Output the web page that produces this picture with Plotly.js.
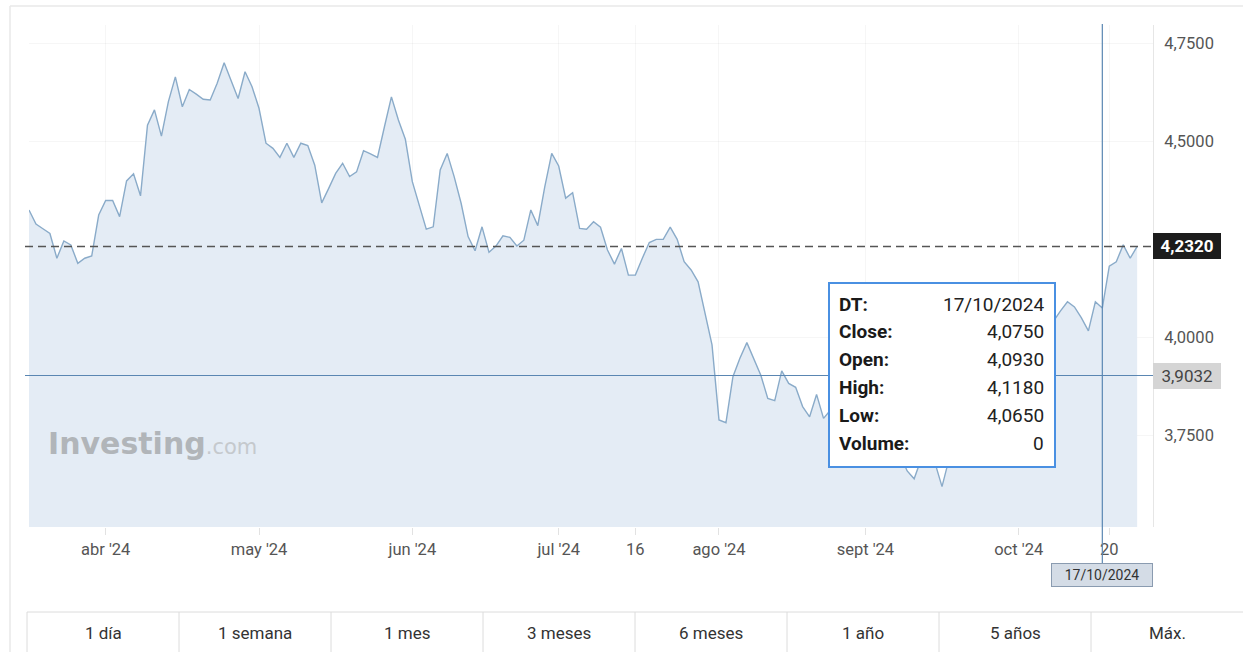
<!DOCTYPE html>
<html>
<head>
<meta charset="utf-8">
<script src="https://cdn.plot.ly/plotly-3.0.1.min.js"></script>
<style>
  html, body { margin: 0; padding: 0; background: #ffffff; }
  #chart { width: 1243px; height: 652px; }
</style>
</head>
<body>
<div id="chart"></div>
<script>
// ---- DATA ----
// Daily closes, one per trading session, as labelled by the source (Sun–Thu stamps)
const firstDate = '2024-03-17';
const closeValues = [
  4.325, 4.289, 4.277, 4.265, 4.202, 4.246, 4.236, 4.189, 4.202, 4.208,
  4.312, 4.349, 4.349, 4.308, 4.399, 4.417, 4.361, 4.541, 4.580, 4.513,
  4.601, 4.664, 4.588, 4.632, 4.620, 4.607, 4.605, 4.648, 4.700, 4.656,
  4.609, 4.677, 4.639, 4.584, 4.495, 4.482, 4.459, 4.495, 4.459, 4.495,
  4.489, 4.439, 4.343, 4.380, 4.418, 4.444, 4.410, 4.422, 4.476, 4.468,
  4.459, 4.537, 4.613, 4.554, 4.505, 4.397, 4.338, 4.276, 4.282, 4.427,
  4.469, 4.410, 4.342, 4.257, 4.221, 4.282, 4.217, 4.233, 4.259, 4.255,
  4.233, 4.248, 4.325, 4.285, 4.384, 4.469, 4.437, 4.355, 4.369, 4.278,
  4.276, 4.295, 4.281, 4.223, 4.187, 4.227, 4.159, 4.159, 4.202, 4.242,
  4.250, 4.250, 4.281, 4.250, 4.193, 4.172, 4.142, 4.062, 3.981, 3.790,
  3.783, 3.900, 3.947, 3.987, 3.947, 3.904, 3.845, 3.839, 3.915, 3.883,
  3.873, 3.824, 3.798, 3.855, 3.794, 3.815, 3.830, 3.840, 3.870, 3.910,
  3.890, 3.840, 3.770, 3.730, 3.710, 3.700, 3.660, 3.640, 3.690, 3.680,
  3.680, 3.620, 3.690, 3.730, 3.740, 3.790, 3.740, 3.790, 3.800, 3.750,
  3.800, 3.740, 3.790, 3.850, 3.980, 4.030, 4.040, 4.042, 4.068, 4.091,
  4.078, 4.050, 4.017, 4.091, 4.075, 4.182, 4.193, 4.236, 4.202, 4.232
];
const tickDates  = ['2024-04-01', '2024-05-01', '2024-06-02', '2024-07-01', '2024-07-16',
                    '2024-08-01', '2024-09-01', '2024-10-01', '2024-10-20'];
const tickLabels = ["abr '24", "may '24", "jun '24", "jul '24", "16",
                    "ago '24", "sept '24", "oct '24", "20"];
// 4,2500 sits under the current-price label in the reference, so it is not labelled
const yTicks = [3.75, 4.00, 4.50, 4.75];
const currentValue = 4.2320;
const cursorValue = 3.9032;
const cursorDate = '2024-10-17';
const tooltipLabels = ['DT:', 'Close:', 'Open:', 'High:', 'Low:', 'Volume:'];
const tooltipDateText = '17/10/2024';
const tooltipClose = 4.0750, tooltipOpen = 4.0930, tooltipHigh = 4.1180, tooltipLow = 4.0650, tooltipVolume = 0;
const rangeButtons = ['1 día', '1 semana', '1 mes', '3 meses', '6 meses', '1 año', '5 años', 'Máx.'];

// trading-session dates (the source skips Fri/Sat stamps)
const dates = [];
{
  const d = new Date(firstDate + 'T00:00:00Z');
  while (dates.length < closeValues.length) {
    const wd = d.getUTCDay();
    if (wd !== 5 && wd !== 6) dates.push(d.toISOString().slice(0, 10));
    d.setUTCDate(d.getUTCDate() + 1);
  }
}

// ---- LAYOUT helpers ----
const W = 1243, H = 652, L = 29, R = 90, T = 25, B = 125;
const pw = W - L - R, ph = H - T - B;
const px = x => (x - L) / pw;
const py = y => (H - B - y) / ph;
const fmt = v => v.toFixed(4).replace('.', ',');
const FONT = 'Roboto, "Open Sans", Arial, sans-serif';

const trace = {
  type: 'scatter', mode: 'lines',
  x: dates, y: closeValues,
  line: { color: '#8aabc9', width: 1.4 },
  fill: 'tozeroy', fillcolor: '#e4ecf5',
  hoverinfo: 'skip'
};

const shapes = [];
const annotations = [];

// frame of widget
shapes.push({ type: 'line', xref: 'paper', yref: 'paper', x0: px(10), x1: px(1243), y0: py(6), y1: py(6), line: { color: '#e9e9e9', width: 1.5 }, layer: 'below' });
shapes.push({ type: 'line', xref: 'paper', yref: 'paper', x0: px(10), x1: px(10), y0: py(6), y1: py(652), line: { color: '#e9e9e9', width: 1.5 }, layer: 'below' });

// current-price dashed line
shapes.push({ type: 'line', xref: 'paper', yref: 'y', x0: px(25), x1: 1, y0: currentValue, y1: currentValue,
  line: { color: '#555555', width: 1.5, dash: '8px,5px' }, layer: 'above' });
// crosshair
shapes.push({ type: 'line', xref: 'paper', yref: 'y', x0: px(25), x1: 1, y0: cursorValue, y1: cursorValue,
  line: { color: '#5a86b2', width: 1.2 }, layer: 'above' });
shapes.push({ type: 'line', xref: 'x', yref: 'paper', x0: cursorDate, x1: cursorDate, y0: py(563), y1: py(24),
  line: { color: '#5a86b2', width: 1.2 }, layer: 'above' });
// tooltip box
shapes.push({ type: 'rect', xref: 'paper', yref: 'paper', x0: px(829), x1: px(1055), y0: py(467), y1: py(283),
  fillcolor: '#ffffff', line: { color: '#4a90e2', width: 2 }, layer: 'above' });

// range-button bar
shapes.push({ type: 'line', xref: 'paper', yref: 'paper', x0: px(27), x1: px(1243), y0: py(612), y1: py(612), line: { color: '#dcdcdc', width: 1 } });
const dividers = [27, 179, 331, 483, 635, 787, 939, 1091];
dividers.forEach(d => shapes.push({ type: 'line', xref: 'paper', yref: 'paper', x0: px(d), x1: px(d), y0: py(612), y1: py(652), line: { color: '#dcdcdc', width: 1 } }));
rangeButtons.forEach((t, i) => {
  const left = dividers[i], right = i + 1 < dividers.length ? dividers[i + 1] : 1243;
  annotations.push({ xref: 'paper', yref: 'paper', x: px((left + right) / 2), y: py(633), text: t, showarrow: false,
    xanchor: 'center', yanchor: 'middle', font: { family: FONT, size: 17, color: '#333333' } });
});

// watermark
annotations.push({ xref: 'paper', yref: 'paper', x: px(46), y: py(443), xanchor: 'left', yanchor: 'middle', showarrow: false,
  text: '<b>Investing</b><span style="font-size:21px;color:#c5c9cd;font-weight:normal">.com</span>',
  font: { family: '"DejaVu Sans", Arial, sans-serif', size: 30, color: '#b1b5b9' } });

// price labels on the right axis
annotations.push({ xref: 'paper', yref: 'y', x: 1, y: currentValue, xanchor: 'left', yanchor: 'middle', showarrow: false,
  text: '<b>' + fmt(currentValue) + '</b>', bgcolor: '#1c1c1c', bordercolor: '#1c1c1c', borderwidth: 1, borderpad: 2,
  width: 62, height: 20, align: 'center', font: { family: FONT, size: 17, color: '#ffffff' } });
annotations.push({ xref: 'paper', yref: 'y', x: 1, y: cursorValue, xanchor: 'left', yanchor: 'middle', showarrow: false,
  text: fmt(cursorValue), bgcolor: '#d5d5d5', bordercolor: '#d5d5d5', borderwidth: 1, borderpad: 2,
  width: 62, height: 20, align: 'center', font: { family: FONT, size: 17, color: '#444444' } });
// date label under the crosshair
annotations.push({ xref: 'x', yref: 'paper', x: cursorDate, y: py(575), xanchor: 'center', yanchor: 'middle', showarrow: false,
  text: tooltipDateText, bgcolor: '#d4dce6', bordercolor: '#8a9bb0', borderwidth: 1, borderpad: 2,
  width: 96, height: 18, font: { family: FONT, size: 14, color: '#333333' } });

// tooltip rows
const tooltipValues = [tooltipDateText, fmt(tooltipClose), fmt(tooltipOpen), fmt(tooltipHigh), fmt(tooltipLow), String(tooltipVolume)];
tooltipLabels.forEach((lab, i) => {
  const yy = 304 + i * 27.8;
  annotations.push({ xref: 'paper', yref: 'paper', x: px(837), y: py(yy), xanchor: 'left', yanchor: 'middle', showarrow: false,
    text: '<b>' + lab + '</b>', font: { family: FONT, size: 19, color: '#1a1a1a' } });
  annotations.push({ xref: 'paper', yref: 'paper', x: px(1046), y: py(yy), xanchor: 'right', yanchor: 'middle', showarrow: false,
    text: tooltipValues[i], font: { family: FONT, size: 19, color: '#222222' } });
});

const layout = {
  width: W, height: H,
  margin: { l: L, r: R, t: T, b: B, pad: 0 },
  paper_bgcolor: '#ffffff', plot_bgcolor: '#ffffff',
  separators: ',.',
  showlegend: false,
  hovermode: false,
  font: { family: FONT, color: '#555555' },
  xaxis: {
    type: 'date',
    range: ['2024-03-17', '2024-10-28 06:30'],
    rangebreaks: [{ pattern: 'day of week', bounds: [5, 0] }],
    tickmode: 'array', tickvals: tickDates, ticktext: tickLabels,
    ticks: 'outside', ticklen: 7, tickcolor: '#e2e2e2', tickwidth: 1,
    ticklabelstandoff: 0,
    tickfont: { family: FONT, size: 16.5, color: '#555555' },
    showgrid: true, gridcolor: 'rgba(0,0,0,0.035)', gridwidth: 1,
    zeroline: false, showline: false, fixedrange: true
  },
  yaxis: {
    side: 'right',
    range: [3.5172, 4.7962],
    tickmode: 'array', tickvals: yTicks,
    tickformat: '.4f',
    ticks: '', ticklabelstandoff: 7,
    tickfont: { family: FONT, size: 16.5, color: '#555555' },
    showgrid: true, gridcolor: 'rgba(0,0,0,0.035)', gridwidth: 1,
    zeroline: false, showline: true, linecolor: '#e6e6e6', linewidth: 1, fixedrange: true
  },
  shapes: shapes,
  annotations: annotations
};

Plotly.newPlot('chart', [trace], layout, { displayModeBar: false, staticPlot: true });
</script>
</body>
</html>
